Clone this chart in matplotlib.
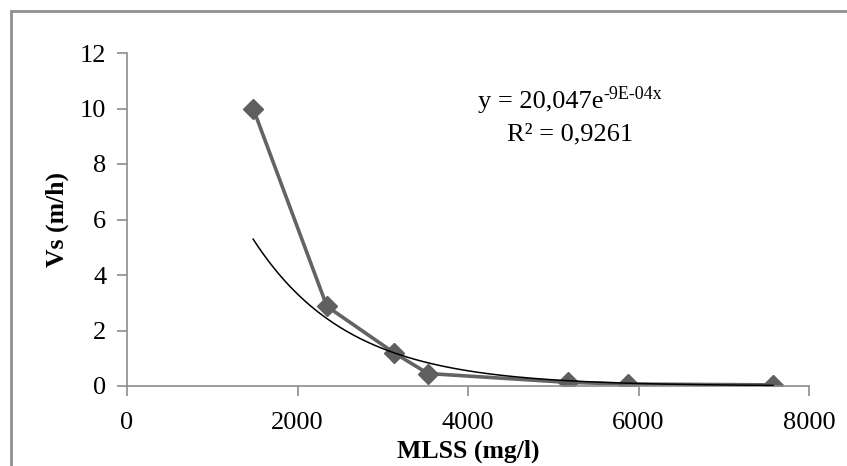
#!/usr/bin/env python3
# settling velocity vs MLSS, with exponential trendline
import matplotlib.pyplot as plt
import numpy as np
from matplotlib.patches import Rectangle

# data
mlss = [1480, 2345, 3135, 3530, 5175, 5875, 7578]
vs = [10.0, 2.87, 1.19, 0.45, 0.13, 0.07, 0.04]

# trendline coefficients as shown on the chart
trend_a = 20.047
trend_b = -9e-04

x_ticks = [0, 2000, 4000, 6000, 8000]
y_ticks = [0, 2, 4, 6, 8, 10, 12]

plt.rcParams["font.family"] = ["Liberation Serif", "DejaVu Serif"]
axis_grey = "#8c8c8c"

fig = plt.figure(figsize=(8.47, 4.66), dpi=100)
# outer chart border, runs off the right and bottom edges
fig.patches.append(Rectangle((11 / 847, -0.1), 1.2, 1 - 11 / 466 + 0.1,
                             transform=fig.transFigure, fill=False,
                             edgecolor="#8f8f8f", linewidth=2))

ax = fig.add_axes([127 / 847, 1 - 386 / 466, 682 / 847, 333 / 466])

# trendline over the data range
xt = np.linspace(mlss[0], mlss[-1], 300)
ax.plot(xt, trend_a * np.exp(trend_b * xt), color="black", linewidth=1.1, zorder=3)

ax.plot(mlss, vs, color="#636363", linewidth=2.6, marker="D",
        markersize=10, markerfacecolor="#5f5f5f", markeredgecolor="#5f5f5f",
        zorder=2)

ax.set_xlim(0, 8000)
ax.set_ylim(0, 12)
ax.set_xticks(x_ticks)
ax.set_yticks(y_ticks)
ax.tick_params(labelsize=19, color=axis_grey, length=7, width=1.2)
ax.tick_params(axis="x", pad=12)
ax.tick_params(axis="y", pad=8)
for side in ["top", "right"]:
    ax.spines[side].set_visible(False)
for side in ["left", "bottom"]:
    ax.spines[side].set_color(axis_grey)
    ax.spines[side].set_linewidth(1.2)

ax.set_xlabel("MLSS (mg/l)", fontsize=18.5, fontweight="bold", labelpad=4)
ax.set_ylabel("Vs (m/h)", fontsize=18.5, fontweight="bold", labelpad=8)

# trendline equation, superscript drawn as its own text so the hyphens stay
eq = fig.text(478 / 847, 1 - 108 / 466, "y = 20,047e", ha="left",
              va="baseline", fontsize=19)
ax.annotate("-9E-04x", xy=(1.0, 0.62), xycoords=eq, ha="left",
            va="baseline", fontsize=13)
fig.text(507 / 847, 1 - 140 / 466, "R² = 0,9261", ha="left", va="baseline",
         fontsize=19)

fig.savefig("out.png", dpi=100)
plt.close(fig)
